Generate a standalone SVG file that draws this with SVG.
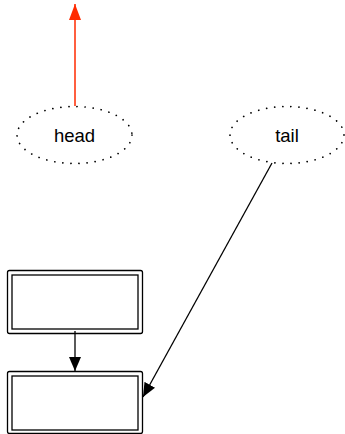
<svg xmlns="http://www.w3.org/2000/svg" width="345" height="434" viewBox="0 0 345 434">
<defs>
<style>
.ell{fill:none;stroke:#000;stroke-width:1.7;stroke-linecap:round;stroke-dasharray:0.1 8}
.lbl{font-family:"Liberation Sans",Arial,sans-serif;font-size:18.5px;fill:#000;text-anchor:middle}
.box{fill:#fff;stroke:#000;stroke-width:1.3}
.edge{fill:none;stroke:#000;stroke-width:1.3}
</style>
<marker id="ab" markerWidth="14" markerHeight="12" refX="14" refY="6" orient="auto" markerUnits="userSpaceOnUse"><path d="M0,0 L14,6 L0,12 Z" fill="#000"/></marker>
<marker id="ar" markerWidth="16" markerHeight="12" refX="16" refY="6" orient="auto" markerUnits="userSpaceOnUse"><path d="M0,0 L16,6 L0,12 Z" fill="#ff2a00"/></marker>
</defs>
<g id="head">
<ellipse class="ell" cx="74.5" cy="135" rx="57.5" ry="28.5"/>
<text class="lbl" x="74.5" y="142">head</text>
</g>
<g id="tail">
<ellipse class="ell" cx="287" cy="135" rx="57" ry="28.5"/>
<text class="lbl" x="287" y="142">tail</text>
</g>
<g id="box1">
<rect class="box" x="7.5" y="270.5" width="135" height="63" rx="2"/>
<rect class="box" x="12" y="275" width="126" height="54"/>
</g>
<g id="box2">
<rect class="box" x="7.5" y="371.5" width="135" height="62" rx="2"/>
<rect class="box" x="12" y="376" width="126" height="54"/>
</g>
<g id="connectors">
<line x1="75" y1="106" x2="75" y2="4" stroke="#ff2a00" stroke-width="1.5" marker-end="url(#ar)"/>
<line class="edge" x1="75" y1="331" x2="75" y2="371" marker-end="url(#ab)"/>
<line class="edge" x1="272" y1="163" x2="143" y2="397" marker-end="url(#ab)"/>
</g>
</svg>
